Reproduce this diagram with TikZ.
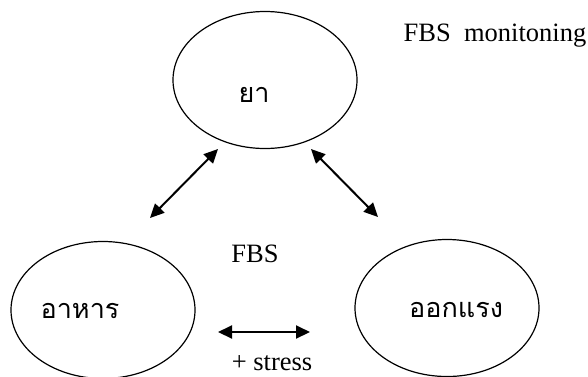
\documentclass[tikz,border=0pt]{standalone}
\usepackage{fontspec}
\setmainfont{Liberation Serif}
\newfontfamily\thaifont[Script=Thai]{Loma}
\usetikzlibrary{arrows.meta,positioning,calc,shapes.geometric}
\tikzset{
    %Define standard arrow tip
    >={Triangle[length=14pt,width=13pt]},
    %Define style for ellipses
    blob/.style={
           draw,
           ellipse,
           line width=1.2pt,
           minimum width=184pt,
           minimum height=137pt},
    % Define style for thai words
    thai/.style={
           anchor=base,
           font=\thaifont\fontsize{27}{30}\selectfont},
    % Define style for other words
    title/.style={
           anchor=base,
           font=\fontsize{26.5}{30}\selectfont},
    % Define arrow style
    pil/.style={
           <->,
           line width=2pt}
}
\begin{document}
\begin{tikzpicture}[x=1pt,y=-1pt]
    \useasboundingbox (0,0) rectangle (588,376);
	% ellipses.
    \node[blob](ya) at (265,80){};
    \node[blob](ahan) at (103,310){};
    \node[blob](okraeng) at (447,308){};

    % words
    \node[thai] at (254,102){ยา};
    \node[thai] at (80,318){อาหาร};
    \node[thai] at (456,317){ออกแรง};
    \node[title](monitor) at (495,41){FBS\ \ monitoning};
    \node[title](fbs) at (255,262){FBS};
    \node[title](stress) at (272,370){+ stress};

    % arrow ends
    \coordinate (ya-l) at (218,149);
    \coordinate (ahan-t) at (150,218);
    \coordinate (ya-r) at (311,149);
    \coordinate (okraeng-t) at (378,217);
    \coordinate (ahan-r) at (218,332);
    \coordinate (okraeng-l) at (310,332);

    % edges
    \draw[pil] (ya-l) -- (ahan-t);
    \draw[pil] (ya-r) -- (okraeng-t);
    \draw[pil] (ahan-r) -- (okraeng-l);
\end{tikzpicture}
\end{document}
